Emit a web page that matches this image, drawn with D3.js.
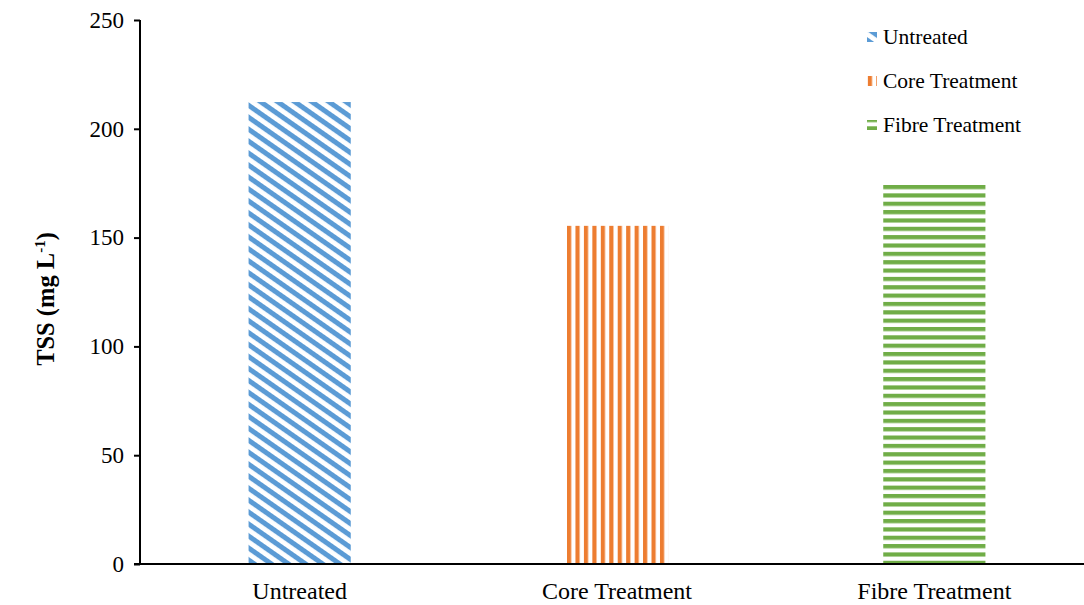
<!DOCTYPE html>
<html><head><meta charset="utf-8">
<script src="https://cdn.jsdelivr.net/npm/d3@7"></script>
<style>body{margin:0;background:#fff}svg{display:block}</style>
</head><body>
<svg id="c" width="1084" height="605"></svg>
<script>
const categories = ["Untreated", "Core Treatment", "Fibre Treatment"];
const values = [212.3, 155.4, 174.3];
const yTicks = [0, 50, 100, 150, 200, 250];
const colors = ["#5B9BD5", "#ED7D31", "#70AD47"];

const svg = d3.select("#c");
const font = "'Liberation Serif','Times New Roman',serif";
const x = d3.scaleBand().domain(categories).range([141, 1093]).paddingInner(0.678).paddingOuter(0.339);
const y = d3.scaleLinear().domain([0, 250]).range([564, 20]);

const defs = svg.append("defs");
const p0 = defs.append("pattern").attr("id","pat0").attr("patternUnits","userSpaceOnUse")
  .attr("width",20).attr("height",9.8).attr("patternTransform","rotate(35)");
p0.append("rect").attr("x",0).attr("y",0).attr("width",20).attr("height",5).attr("fill",colors[0]);
const p1 = defs.append("pattern").attr("id","pat1").attr("patternUnits","userSpaceOnUse")
  .attr("x",567).attr("width",8.45).attr("height",10);
p1.append("rect").attr("x",0).attr("y",0).attr("width",4.2).attr("height",10).attr("fill",colors[1]);
const p2 = defs.append("pattern").attr("id","pat2").attr("patternUnits","userSpaceOnUse")
  .attr("y",185).attr("width",10).attr("height",8.35);
p2.append("rect").attr("x",0).attr("y",0).attr("width",10).attr("height",4.2).attr("fill",colors[2]);

svg.selectAll("rect.bar").data(values).join("rect").attr("class","bar")
  .attr("x",(d,i)=>x(categories[i])).attr("width",x.bandwidth())
  .attr("y",d=>y(d)).attr("height",d=>y(0)-y(d))
  .attr("fill",(d,i)=>`url(#pat${i})`);

const ya = svg.append("g").attr("transform","translate(140,0)")
  .call(d3.axisLeft(y).tickValues(yTicks).tickSize(6).tickPadding(10));
ya.select(".domain").attr("stroke","#000").attr("stroke-width",2).attr("d","M0,20V564");
ya.selectAll(".tick line").attr("stroke","#000").attr("stroke-width",2);
ya.selectAll(".tick text").attr("font-family",font).attr("font-size",23).attr("fill","#000");

const xa = svg.append("g").attr("transform","translate(0,564)")
  .call(d3.axisBottom(x).tickSize(0).tickPadding(18));
xa.select(".domain").attr("stroke","#000").attr("stroke-width",2).attr("d","M134,0H1084");
xa.selectAll(".tick text").attr("font-family",font).attr("font-size",24).attr("fill","#000");

const t = svg.append("text").attr("transform","translate(54,299) rotate(-90)")
  .attr("text-anchor","middle").attr("font-family",font).attr("font-size",24.5).attr("font-weight","bold");
t.append("tspan").text("TSS (mg L");
t.append("tspan").attr("dy",-9).attr("font-size",15).text("-1");
t.append("tspan").attr("dy",9).text(")");

const lg = svg.append("g");
const ly = [37, 81, 125];
categories.forEach((c,i)=>{
  const g = lg.append("g").attr("transform",`translate(867,${ly[i]})`);
  g.append("rect").attr("x",0).attr("y",-5).attr("width",10).attr("height",10).attr("fill",`url(#pat${i})`);
  g.append("text").attr("x",16).attr("y",0).attr("dy","0.32em").attr("font-family",font)
    .attr("font-size",21.5).text(c);
});
</script>
</body></html>
